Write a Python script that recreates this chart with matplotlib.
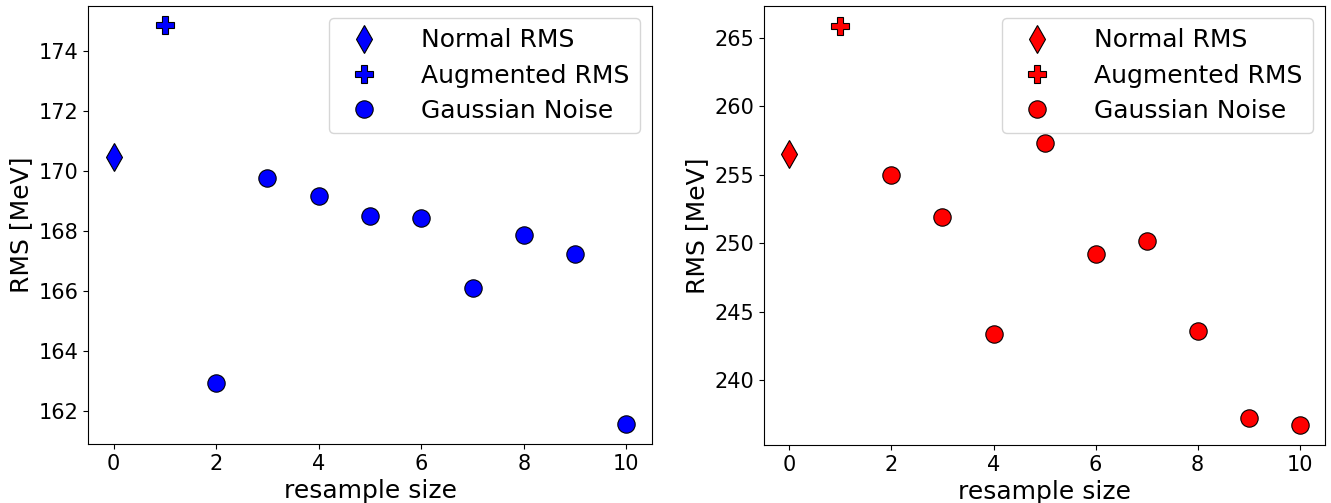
import matplotlib
matplotlib.use("Agg")
import matplotlib.pyplot as plt

resample = [0, 1, 2, 3, 4, 5, 6, 7, 8, 9, 10]
left_normal = 170.48
left_augmented = 174.85
left_noise = [162.93, 169.77, 169.18, 168.50, 168.42, 166.10, 167.88, 167.23, 161.57]
right_normal = 256.55
right_augmented = 265.88
right_noise = [255.02, 251.95, 243.35, 257.33, 249.22, 250.18, 243.55, 237.25, 236.72]

fig = plt.figure(figsize=(13.31, 5.03), dpi=100)
ax1 = fig.add_axes([0.0661, 0.1173, 0.4238, 0.8708])
ax2 = fig.add_axes([0.574, 0.1153, 0.4215, 0.8728])

def draw(ax, color, normal, aug, noise, ylim, yticks):
    ax.plot([resample[0]], [normal], linestyle='none', marker='d', markersize=14,
            markerfacecolor=color, markeredgecolor='black', markeredgewidth=0.8, label='Normal RMS')
    ax.plot([resample[1]], [aug], linestyle='none', marker='P', markersize=12.5,
            markerfacecolor=color, markeredgecolor='black', markeredgewidth=0.8, label='Augmented RMS')
    ax.plot(resample[2:], noise, linestyle='none', marker='o', markersize=12.5,
            markerfacecolor=color, markeredgecolor='black', markeredgewidth=0.8, label='Gaussian Noise')
    ax.set_xlim(-0.5, 10.5)
    ax.set_ylim(*ylim)
    ax.set_xticks([0, 2, 4, 6, 8, 10])
    ax.set_yticks(yticks)
    ax.tick_params(labelsize=15)
    ax.set_xlabel('resample size', fontsize=18)
    ax.set_ylabel('RMS [MeV]', fontsize=18)
    ax.legend(loc='upper right', fontsize=18, handletextpad=1.3, labelspacing=0.45)

draw(ax1, 'blue', left_normal, left_augmented, left_noise, (160.9, 175.5), [162, 164, 166, 168, 170, 172, 174])
draw(ax2, 'red', right_normal, right_augmented, right_noise, (235.25, 267.34), [240, 245, 250, 255, 260, 265])

fig.savefig('out.png', dpi=100)
